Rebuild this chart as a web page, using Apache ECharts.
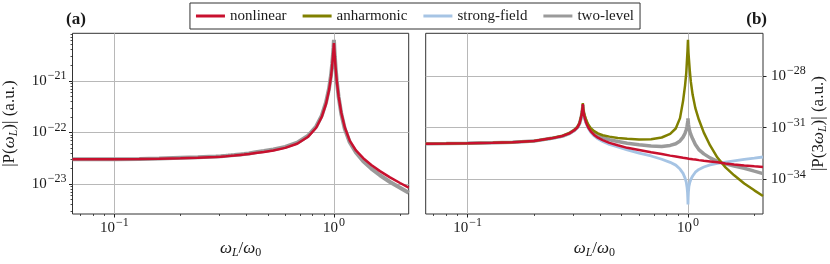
<!DOCTYPE html>
<html><head><meta charset="utf-8">
<script src="https://cdn.jsdelivr.net/npm/echarts@6/dist/echarts.min.js"></script>
<style>html,body{margin:0;padding:0;background:#fff}#c{width:830px;height:264px}</style>
</head><body><div id="c"></div>
<script>
// ---- data; y values are log10 of |P| (the axes are decades) ----
const omega = [0.0645,0.08,0.1,0.13,0.16,0.2,0.24,0.27,0.29,0.305,0.315,0.322,0.327,0.33,0.3325,0.3333,0.334,0.3365,0.34,0.345,0.352,0.362,0.375,0.39,0.41,0.44,0.48,0.53,0.6,0.68,0.76,0.83,0.88,0.92,0.95,0.97,0.982,0.99,0.995,0.998,1.0,1.002,1.005,1.01,1.018,1.03,1.05,1.08,1.12,1.18,1.26,1.36,1.48,1.62,1.8,2.0,2.19];
const seriesNames = ['nonlinear','anharmonic','strong-field','two-level'];

const leftNonlinearLog10 = [-22.52,-22.52,-22.52,-22.515,-22.51,-22.50,-22.49,-22.48,-22.475,-22.47,-22.465,-22.462,-22.46,-22.458,-22.457,-22.456,-22.456,-22.455,-22.453,-22.45,-22.447,-22.442,-22.436,-22.43,-22.42,-22.40,-22.38,-22.35,-22.30,-22.22,-22.09,-21.91,-21.70,-21.45,-21.18,-20.92,-20.70,-20.52,-20.40,-20.31,-20.27,-20.32,-20.42,-20.56,-20.76,-21.00,-21.30,-21.62,-21.90,-22.16,-22.35,-22.50,-22.63,-22.75,-22.87,-22.98,-23.07];
const leftTwoLevelLog10 = [-22.52,-22.52,-22.52,-22.513,-22.505,-22.49,-22.48,-22.47,-22.465,-22.46,-22.455,-22.452,-22.45,-22.448,-22.447,-22.446,-22.446,-22.445,-22.443,-22.44,-22.437,-22.432,-22.426,-22.42,-22.41,-22.385,-22.36,-22.33,-22.28,-22.20,-22.07,-21.885,-21.675,-21.42,-21.15,-20.89,-20.67,-20.49,-20.36,-20.26,-20.21,-20.27,-20.39,-20.54,-20.75,-21.00,-21.31,-21.64,-21.93,-22.19,-22.39,-22.56,-22.70,-22.83,-22.96,-23.07,-23.17];

const rightNonlinearLog10 = [-31.93,-31.92,-31.90,-31.87,-31.84,-31.77,-31.62,-31.48,-31.33,-31.15,-30.98,-30.75,-30.42,-30.15,-29.85,-29.63,-29.88,-30.20,-30.45,-30.72,-30.98,-31.22,-31.42,-31.58,-31.72,-31.88,-32.02,-32.17,-32.30,-32.43,-32.53,-32.62,-32.67,-32.71,-32.74,-32.76,-32.77,-32.78,-32.78,-32.79,-32.79,-32.79,-32.79,-32.80,-32.80,-32.81,-32.83,-32.85,-32.88,-32.92,-32.96,-33.01,-33.07,-33.13,-33.19,-33.24,-33.28];
const rightAnharmonicLog10 = [-31.93,-31.92,-31.90,-31.87,-31.84,-31.77,-31.61,-31.47,-31.31,-31.13,-30.95,-30.72,-30.39,-30.11,-29.80,-29.58,-29.82,-30.10,-30.30,-30.55,-30.80,-31.03,-31.20,-31.33,-31.44,-31.52,-31.60,-31.65,-31.69,-31.67,-31.57,-31.36,-31.05,-30.45,-29.45,-28.55,-27.85,-27.05,-26.55,-26.15,-25.92,-26.25,-26.65,-27.05,-27.64,-28.34,-29.10,-29.87,-30.53,-31.29,-32.03,-32.73,-33.30,-33.76,-34.23,-34.63,-34.96];
const rightStrongFieldLog10 = [-31.93,-31.92,-31.90,-31.87,-31.84,-31.78,-31.63,-31.50,-31.34,-31.17,-31.00,-30.78,-30.46,-30.19,-29.90,-29.70,-29.95,-30.24,-30.49,-30.76,-31.02,-31.27,-31.48,-31.65,-31.80,-31.97,-32.12,-32.29,-32.47,-32.64,-32.83,-33.01,-33.17,-33.40,-33.65,-33.92,-34.15,-34.45,-34.75,-35.10,-35.45,-35.05,-34.70,-34.40,-34.20,-34.00,-33.80,-33.58,-33.42,-33.28,-33.16,-33.07,-32.99,-32.92,-32.84,-32.77,-32.70];
const rightTwoLevelLog10 = [-31.93,-31.92,-31.90,-31.87,-31.84,-31.78,-31.62,-31.49,-31.33,-31.15,-30.98,-30.76,-30.44,-30.17,-29.88,-29.68,-29.92,-30.18,-30.42,-30.67,-30.92,-31.15,-31.33,-31.47,-31.58,-31.70,-31.80,-31.90,-31.99,-32.06,-32.09,-32.03,-31.93,-31.77,-31.55,-31.32,-31.12,-30.92,-30.75,-30.60,-30.47,-30.62,-30.80,-31.00,-31.20,-31.40,-31.65,-31.98,-32.27,-32.52,-32.75,-32.95,-33.10,-33.22,-33.35,-33.52,-33.66];

// ---- ticks ----
const xMajorTicks = [0.1, 1];
const xMinorTicks = [0.07,0.08,0.09,0.2,0.3,0.4,0.5,0.6,0.7,0.8,0.9,2];
const leftYMajorTicks = [1e-23, 1e-22, 1e-21];
const leftYMinorTicks = [3e-24,4e-24,5e-24,6e-24,7e-24,8e-24,9e-24,2e-23,3e-23,4e-23,5e-23,6e-23,7e-23,8e-23,9e-23,2e-22,3e-22,4e-22,5e-22,6e-22,7e-22,8e-22,9e-22,2e-21,3e-21,4e-21,5e-21,6e-21,7e-21,8e-21];
const rightYMajorTicks = [1e-34, 1e-31, 1e-28];
const leftYRange = [2.63e-24, 8.3e-21];
const rightYRange = [1e-36, 2.9e-26];
const xRange = [0.0645, 2.19];

// ---- styling ----
const FONT = 'Liberation Serif';
const TXT = '#1a1a1a';
const COLORS = {'nonlinear':'#c8102e','anharmonic':'#808000','strong-field':'#a6c4e4','two-level':'#9a9a9a'};
const dec = v => Math.log10(v);

function pts(arr){ return omega.map((w,i)=>[w, arr[i]]); }
function expLabel(e){
  e = Math.round(e);
  return '{b|10}{s|' + (e < 0 ? '\u2212' : '') + Math.abs(e) + '}';
}
const tickRich = {
  b:{fontFamily:FONT,fontSize:15,color:TXT,lineHeight:22,verticalAlign:'middle'},
  s:{fontFamily:FONT,fontSize:12,color:TXT,lineHeight:11,verticalAlign:'top',padding:[0,0,0,1]}
};
const nameRich = {
  t:{fontFamily:FONT,fontSize:17,color:TXT,lineHeight:20,verticalAlign:'middle'},
  w:{fontFamily:FONT,fontSize:17,fontStyle:'italic',color:TXT,lineHeight:20,verticalAlign:'middle'},
  sub:{fontFamily:FONT,fontSize:12,fontStyle:'italic',color:TXT,lineHeight:11,verticalAlign:'bottom'},
  sub0:{fontFamily:FONT,fontSize:12,color:TXT,lineHeight:11,verticalAlign:'bottom'}
};
const splitStyle = {show:true,lineStyle:{color:'#b8b8b8',width:1}};
const majorTick = {length:3.5,lineStyle:{color:'#222',width:1}};
const minorTickStyle = {length:2,lineStyle:{color:'#222',width:0.8}};

function xMajor(grid){
  return {type:'log',logBase:10,gridIndex:grid,min:xRange[0],max:xRange[1],position:'bottom',
    axisLine:{show:false},
    axisTick:Object.assign({show:true,customValues:xMajorTicks},majorTick),
    axisLabel:{show:true,customValues:xMajorTicks,formatter:v=>expLabel(dec(v)),rich:tickRich,margin:3},
    splitLine:splitStyle,
    name:'{w|ω}{sub|L}{t|/}{w|ω}{sub0|0}',nameLocation:'middle',nameGap:25,
    nameTextStyle:{rich:nameRich}};
}
function xMinor(grid){
  return {type:'log',logBase:10,gridIndex:grid,min:xRange[0],max:xRange[1],position:'bottom',
    axisLine:{show:false},
    axisTick:Object.assign({show:true,customValues:xMinorTicks},minorTickStyle),
    axisLabel:{show:false},splitLine:{show:false}};
}
function yDecadeAxis(grid, range, majors, side, margin, name, gap){
  return {type:'value',gridIndex:grid,min:dec(range[0]),max:dec(range[1]),position:side,
    axisLine:{show:false},
    axisTick:Object.assign({show:true,customValues:majors.map(dec)},majorTick),
    axisLabel:{show:true,customValues:majors.map(dec),formatter:expLabel,rich:tickRich,margin:margin},
    splitLine:splitStyle,
    name:name,nameLocation:'middle',nameGap:gap,nameRotate:90,nameTextStyle:{rich:nameRich}};
}

const option = {
  animation:false,
  backgroundColor:'#ffffff',
  title:[
    {text:'(a)',left:66,top:11,padding:0,textStyle:{fontFamily:FONT,fontWeight:'bold',fontSize:17,color:TXT}},
    {text:'(b)',right:63,top:11,padding:0,textStyle:{fontFamily:FONT,fontWeight:'bold',fontSize:17,color:TXT}}
  ],
  legend:{
    top:3,left:'center',data:seriesNames,selectedMode:false,
    icon:'rect',itemWidth:29,itemHeight:3,itemGap:16,
    borderColor:'#333',borderWidth:1,borderRadius:0,padding:[4,6,4,6],
    backgroundColor:'#fff',
    textStyle:{fontFamily:FONT,fontSize:15,color:TXT,lineHeight:18}
  },
  grid:[
    {left:70.3,top:33.3,width:338.4,height:182.7,show:true,borderColor:'#333',borderWidth:1,backgroundColor:'transparent'},
    {left:425.7,top:33.3,width:337.6,height:182.7,show:true,borderColor:'#333',borderWidth:1,backgroundColor:'transparent'}
  ],
  xAxis:[xMajor(0), xMinor(0), xMajor(1), xMinor(1)],
  yAxis:[
    yDecadeAxis(0, leftYRange, leftYMajorTicks, 'left', 6, '{t||P(}{w|ω}{sub|L}{t|)| (a.u.)}', 53),
    {type:'value',gridIndex:0,min:dec(leftYRange[0]),max:dec(leftYRange[1]),position:'left',offset:0,
      axisLine:{show:false},
      axisTick:Object.assign({show:true,customValues:leftYMinorTicks.map(dec)},minorTickStyle),
      axisLabel:{show:false},splitLine:{show:false}},
    yDecadeAxis(1, rightYRange, rightYMajorTicks, 'right', 8, '{t||P(3}{w|ω}{sub|L}{t|)| (a.u.)}', 46)
  ],
  series:[
    {name:'two-level',type:'line',xAxisIndex:0,yAxisIndex:0,data:pts(leftTwoLevelLog10),
      showSymbol:false,symbol:'none',color:COLORS['two-level'],
      lineStyle:{color:COLORS['two-level'],width:4},itemStyle:{color:COLORS['two-level']},z:2,silent:true},
    {name:'nonlinear',type:'line',xAxisIndex:0,yAxisIndex:0,data:pts(leftNonlinearLog10),
      showSymbol:false,symbol:'none',color:COLORS['nonlinear'],
      lineStyle:{color:COLORS['nonlinear'],width:2.5},itemStyle:{color:COLORS['nonlinear']},z:5,silent:true},
    {name:'two-level',type:'line',xAxisIndex:2,yAxisIndex:2,data:pts(rightTwoLevelLog10),
      showSymbol:false,symbol:'none',color:COLORS['two-level'],
      lineStyle:{color:COLORS['two-level'],width:3.5},itemStyle:{color:COLORS['two-level']},z:2,silent:true},
    {name:'strong-field',type:'line',xAxisIndex:2,yAxisIndex:2,data:pts(rightStrongFieldLog10),
      showSymbol:false,symbol:'none',color:COLORS['strong-field'],
      lineStyle:{color:COLORS['strong-field'],width:2.8},itemStyle:{color:COLORS['strong-field']},z:3,silent:true},
    {name:'anharmonic',type:'line',xAxisIndex:2,yAxisIndex:2,data:pts(rightAnharmonicLog10),
      showSymbol:false,symbol:'none',color:COLORS['anharmonic'],
      lineStyle:{color:COLORS['anharmonic'],width:2.5},itemStyle:{color:COLORS['anharmonic']},z:4,silent:true},
    {name:'nonlinear',type:'line',xAxisIndex:2,yAxisIndex:2,data:pts(rightNonlinearLog10),
      showSymbol:false,symbol:'none',color:COLORS['nonlinear'],
      lineStyle:{color:COLORS['nonlinear'],width:2.5},itemStyle:{color:COLORS['nonlinear']},z:5,silent:true}
  ]
};
const chart = echarts.init(document.getElementById('c'), null, {renderer:'canvas'});
chart.setOption(option);
</script></body></html>
